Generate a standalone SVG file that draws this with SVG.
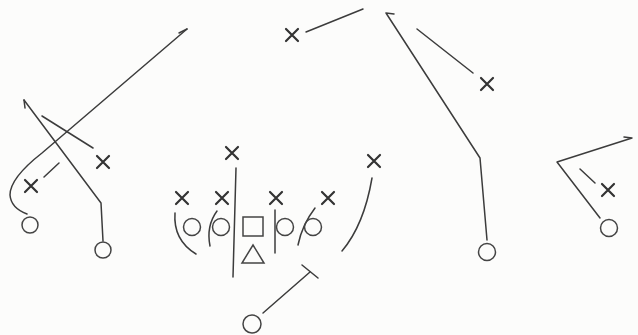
<svg xmlns="http://www.w3.org/2000/svg" width="638" height="335" viewBox="0 0 638 335">
<style>
.bg{fill:#fcfcfb}
.x{stroke:#333;stroke-width:2.2;fill:none;stroke-linecap:round}
.o{stroke:#444;stroke-width:1.5;fill:none}
.c{stroke:#3c3c3c;stroke-width:1.5;fill:none;stroke-linecap:round;stroke-linejoin:round}
</style>
<defs>
<path id="xm" d="M-6,-6 L6,6 M6,-6 L-6,6"/>
</defs>
<rect class="bg" width="638" height="335"/>
<g id="connectors" class="c">
<path d="M187,29 L42,153 Q10,178 10,195 Q11,208 27,214"/>
<path d="M179,33 L187,29"/>
<path d="M44,177 L59,163"/>
<path d="M103,241 L101,203 L24,100"/>
<path d="M24,100 L25,108"/>
<path d="M93,148 L42,116"/>
<path d="M236,168 L233,277"/>
<path d="M175,213 Q173,240 196,254"/>
<path d="M217,211 Q206,226 210,246"/>
<path d="M275,210 L275,253"/>
<path d="M315,208 Q302,225 298,245"/>
<path d="M372,178 Q364,225 342,251"/>
<path d="M263,313 L310,272"/>
<path d="M302,265 L318,278"/>
<path d="M306,32 L363,9"/>
<path d="M487,240 L480,158 L386,13 L394,14"/>
<path d="M417,29 L473,73"/>
<path d="M600,218 L557,162 L632,138 L624,137"/>
<path d="M580,169 L595,183"/>
</g>
<g id="o1" class="o"><circle cx="30" cy="225" r="8"/></g>
<g id="o2" class="o"><circle cx="103" cy="250" r="8"/></g>
<g id="o3" class="o"><circle cx="192" cy="227" r="8.5"/></g>
<g id="o4" class="o"><circle cx="221" cy="227" r="8.5"/></g>
<g id="center" class="o"><rect x="243" y="217" width="20" height="19"/></g>
<g id="o5" class="o"><circle cx="285" cy="227" r="8.5"/></g>
<g id="o6" class="o"><circle cx="313" cy="227" r="8.5"/></g>
<g id="qb" class="o"><polygon points="253,245 264,263 242,263"/></g>
<g id="rb" class="o"><circle cx="252" cy="324" r="9"/></g>
<g id="o7" class="o"><circle cx="487" cy="252" r="8.5"/></g>
<g id="o8" class="o"><circle cx="609" cy="228" r="8.5"/></g>
<g id="x1" class="x"><use href="#xm" x="31" y="186"/></g>
<g id="x2" class="x"><use href="#xm" x="103" y="162"/></g>
<g id="x3" class="x"><use href="#xm" x="182" y="198"/></g>
<g id="x4" class="x"><use href="#xm" x="222" y="198"/></g>
<g id="x5" class="x"><use href="#xm" x="232" y="153"/></g>
<g id="x6" class="x"><use href="#xm" x="276" y="198"/></g>
<g id="x7" class="x"><use href="#xm" x="328" y="198"/></g>
<g id="x8" class="x"><use href="#xm" x="374" y="161"/></g>
<g id="x9" class="x"><use href="#xm" x="292" y="35"/></g>
<g id="x10" class="x"><use href="#xm" x="487" y="84"/></g>
<g id="x11" class="x"><use href="#xm" x="608" y="190"/></g>
</svg>
